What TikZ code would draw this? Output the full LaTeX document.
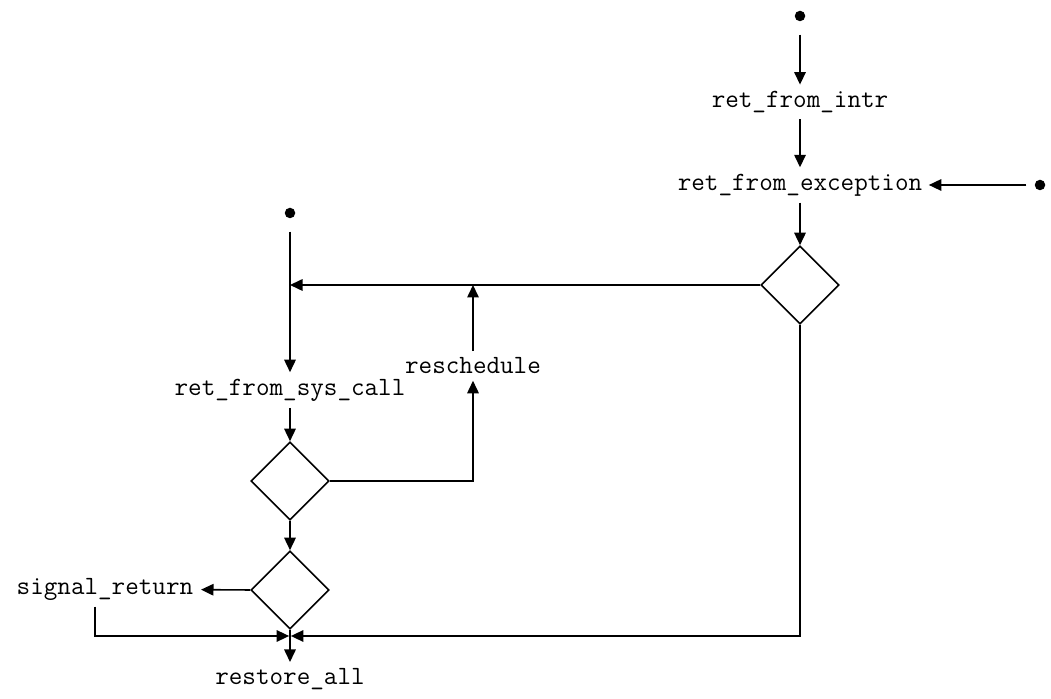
\documentclass[tikz,border=0pt]{standalone}
\usetikzlibrary{arrows.meta,shapes.geometric}
\begin{document}
\begin{tikzpicture}[line width=0.9pt,>={Triangle[length=2.5mm,width=2.3mm]},
every node/.style={font=\fontsize{15pt}{18pt}\ttfamily},
entry/.style={circle,fill,inner sep=0pt,minimum size=2.1mm},
test/.style={diamond,draw,inner sep=0pt,minimum size=1.56cm},
from dot/.style={->,shorten <=2.5mm}]
\useasboundingbox (0,0) rectangle (21.02,13.98);
\node[entry] (intrdot) at (16,13.66) {};
\node (intr) at (16,11.94) {ret\_from\_intr};
\node (exc) at (16,10.28) {ret\_from\_exception};
\node[entry] (excdot) at (20.8,10.28) {};
\node[test] (exctest) at (16,8.28) {};
\node[entry] (sysdot) at (5.8,9.72) {};
\node (sys) at (5.8,6.18) {ret\_from\_sys\_call};
\node (resched) at (9.46,6.66) {reschedule};
\node[test] (needresched) at (5.8,4.36) {};
\node[test] (sigpending) at (5.8,2.18) {};
\node[anchor=east,inner xsep=4pt] (sig) at (4.02,2.2) {signal\_return};
\node[anchor=north] (restore) at (5.8,0.74) {restore\_all};
\coordinate (join) at (5.8,1.26);
\coordinate (back) at (sys |- exctest);

\draw[from dot] (intrdot) -- (intr);
\draw[->] (intr) -- (exc);
\draw[from dot,shorten <=1.5mm] (excdot) -- (exc);
\draw[->] (exc) -- (exctest);
\draw[from dot] (sysdot) -- (sys);
\draw[->] (exctest.west) -- (back);
\draw[->] (resched) -- (resched |- exctest);
\draw[->] (sys) -- (needresched);
\draw[->] (needresched.east) -| (resched.south);
\draw[->] (needresched) -- (sigpending);
\draw[->] (sigpending.west) -- (sig);
\draw[->] (sigpending.south) -- (restore);
\draw[->] (sig.south) ++(-0.2,0) |- ([xshift=-0.5pt]join);
\draw[->] (exctest.south) |- ([xshift=0.5pt]join);
\end{tikzpicture}
\end{document}
